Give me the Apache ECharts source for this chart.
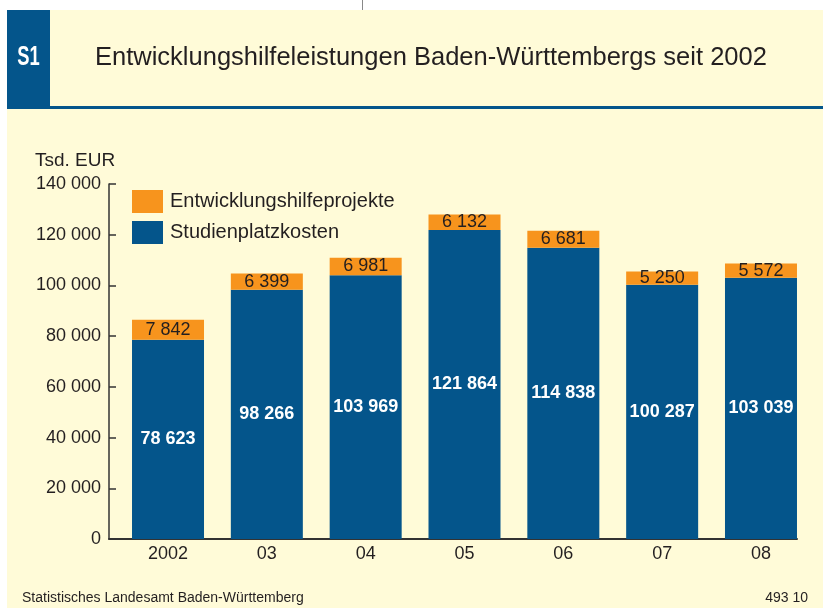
<!DOCTYPE html>
<html>
<head>
<meta charset="utf-8">
<script src="https://cdn.jsdelivr.net/npm/echarts@6/dist/echarts.min.js"></script>
<style>
html,body{margin:0;padding:0;background:#ffffff;}
#c{width:823px;height:608px;}
</style>
</head>
<body>
<div id="c"></div>
<script>
const categories = ['2002', '03', '04', '05', '06', '07', '08'];
const studienplatzkosten = [78623, 98266, 103969, 121864, 114838, 100287, 103039];
const projekte = [7842, 6399, 6981, 6132, 6681, 5250, 5572];

const BLUE = '#04558b';
const ORANGE = '#f7941d';
const CREAM = '#fffbd8';
const TXT = '#231f20';
const FONT = '"Liberation Sans", Arial, sans-serif';

function fmt(v) {
  return String(v).replace(/\B(?=(\d{3})+(?!\d))/g, ' ');
}

const chart = echarts.init(document.getElementById('c'), null, {renderer: 'canvas'});
chart.setOption({
  animation: false,
  backgroundColor: '#ffffff',
  textStyle: {fontFamily: FONT},
  graphic: [
    {type: 'rect', shape: {x: 7, y: 10, width: 816, height: 598}, style: {fill: CREAM}, z: -10, silent: true},
    {type: 'rect', shape: {x: 7, y: 10, width: 43, height: 97}, style: {fill: BLUE}, z: -5},
    {type: 'rect', shape: {x: 7, y: 106, width: 816, height: 3}, style: {fill: BLUE}, z: -5},
    {type: 'line', shape: {x1: 362.5, y1: 0, x2: 362.5, y2: 10}, style: {stroke: '#888', lineWidth: 1}},
    {type: 'text', x: 28.5, y: 58, scaleX: 0.68, style: {text: 'S1', fill: '#ffffff', font: 'bold 27px ' + FONT, textAlign: 'center', textVerticalAlign: 'middle'}},
    {type: 'text', x: 95, y: 58, style: {text: 'Entwicklungshilfeleistungen Baden-Württembergs seit 2002', fill: TXT, font: '25.5px ' + FONT, textVerticalAlign: 'middle'}},
    {type: 'text', x: 35, y: 161, style: {text: 'Tsd. EUR', fill: TXT, font: '19px ' + FONT, textVerticalAlign: 'middle'}},
    {type: 'text', x: 22, y: 598, style: {text: 'Statistisches Landesamt Baden-Württemberg', fill: TXT, font: '14px ' + FONT, textVerticalAlign: 'middle'}},
    {type: 'text', x: 808, y: 598, style: {text: '493 10', fill: TXT, font: '14px ' + FONT, textAlign: 'right', textVerticalAlign: 'middle'}}
  ],
  legend: {
    orient: 'vertical',
    left: 132,
    top: 190,
    padding: 0,
    itemWidth: 31,
    itemHeight: 23,
    itemGap: 8,
    icon: 'rect',
    data: ['Entwicklungshilfeprojekte', 'Studienplatzkosten'],
    textStyle: {fontSize: 20, color: TXT, fontFamily: FONT, padding: [0, 0, 0, 2]}
  },
  grid: [
    {left: 118.6, right: 12.6, top: 184, bottom: 69, containLabel: false},
    {left: 109, right: 26, top: 184, bottom: 69, containLabel: false}
  ],
  xAxis: [
    {
      type: 'category',
      gridIndex: 0,
      data: categories,
      axisLine: {show: false},
      axisTick: {show: false},
      splitLine: {show: false},
      axisLabel: {fontSize: 18, color: TXT, margin: 6, fontFamily: FONT}
    },
    {
      type: 'value',
      gridIndex: 1,
      min: 0,
      max: 1,
      axisLine: {show: true, onZero: false, lineStyle: {color: '#333', width: 2}},
      axisTick: {show: false},
      splitLine: {show: false},
      axisLabel: {show: false}
    }
  ],
  yAxis: [
    {
      type: 'value',
      gridIndex: 0,
      min: 0,
      max: 140000,
      interval: 20000,
      show: false,
      splitLine: {show: false}
    },
    {
      type: 'value',
      gridIndex: 1,
      min: 0,
      max: 140000,
      interval: 20000,
      axisLine: {show: true, onZero: false, lineStyle: {color: '#333', width: 1.5}},
      axisTick: {show: true, inside: true, length: 7, lineStyle: {color: '#333', width: 1.5}},
      splitLine: {show: false},
      axisLabel: {formatter: v => fmt(v), fontSize: 18, color: TXT, margin: 8, fontFamily: FONT}
    }
  ],
  series: [
    {
      name: 'Studienplatzkosten',
      type: 'bar',
      stack: 'total',
      xAxisIndex: 0,
      yAxisIndex: 0,
      barWidth: 72,
      itemStyle: {color: BLUE},
      data: studienplatzkosten,
      label: {show: true, position: 'inside', formatter: p => fmt(p.value), color: '#ffffff', fontWeight: 'bold', fontSize: 18, fontFamily: FONT}
    },
    {
      name: 'Entwicklungshilfeprojekte',
      type: 'bar',
      stack: 'total',
      xAxisIndex: 0,
      yAxisIndex: 0,
      barWidth: 72,
      itemStyle: {color: ORANGE},
      data: projekte,
      label: {show: true, position: 'inside', formatter: p => fmt(p.value), color: TXT, fontSize: 18, fontFamily: FONT}
    }
  ]
});
</script>
</body>
</html>
